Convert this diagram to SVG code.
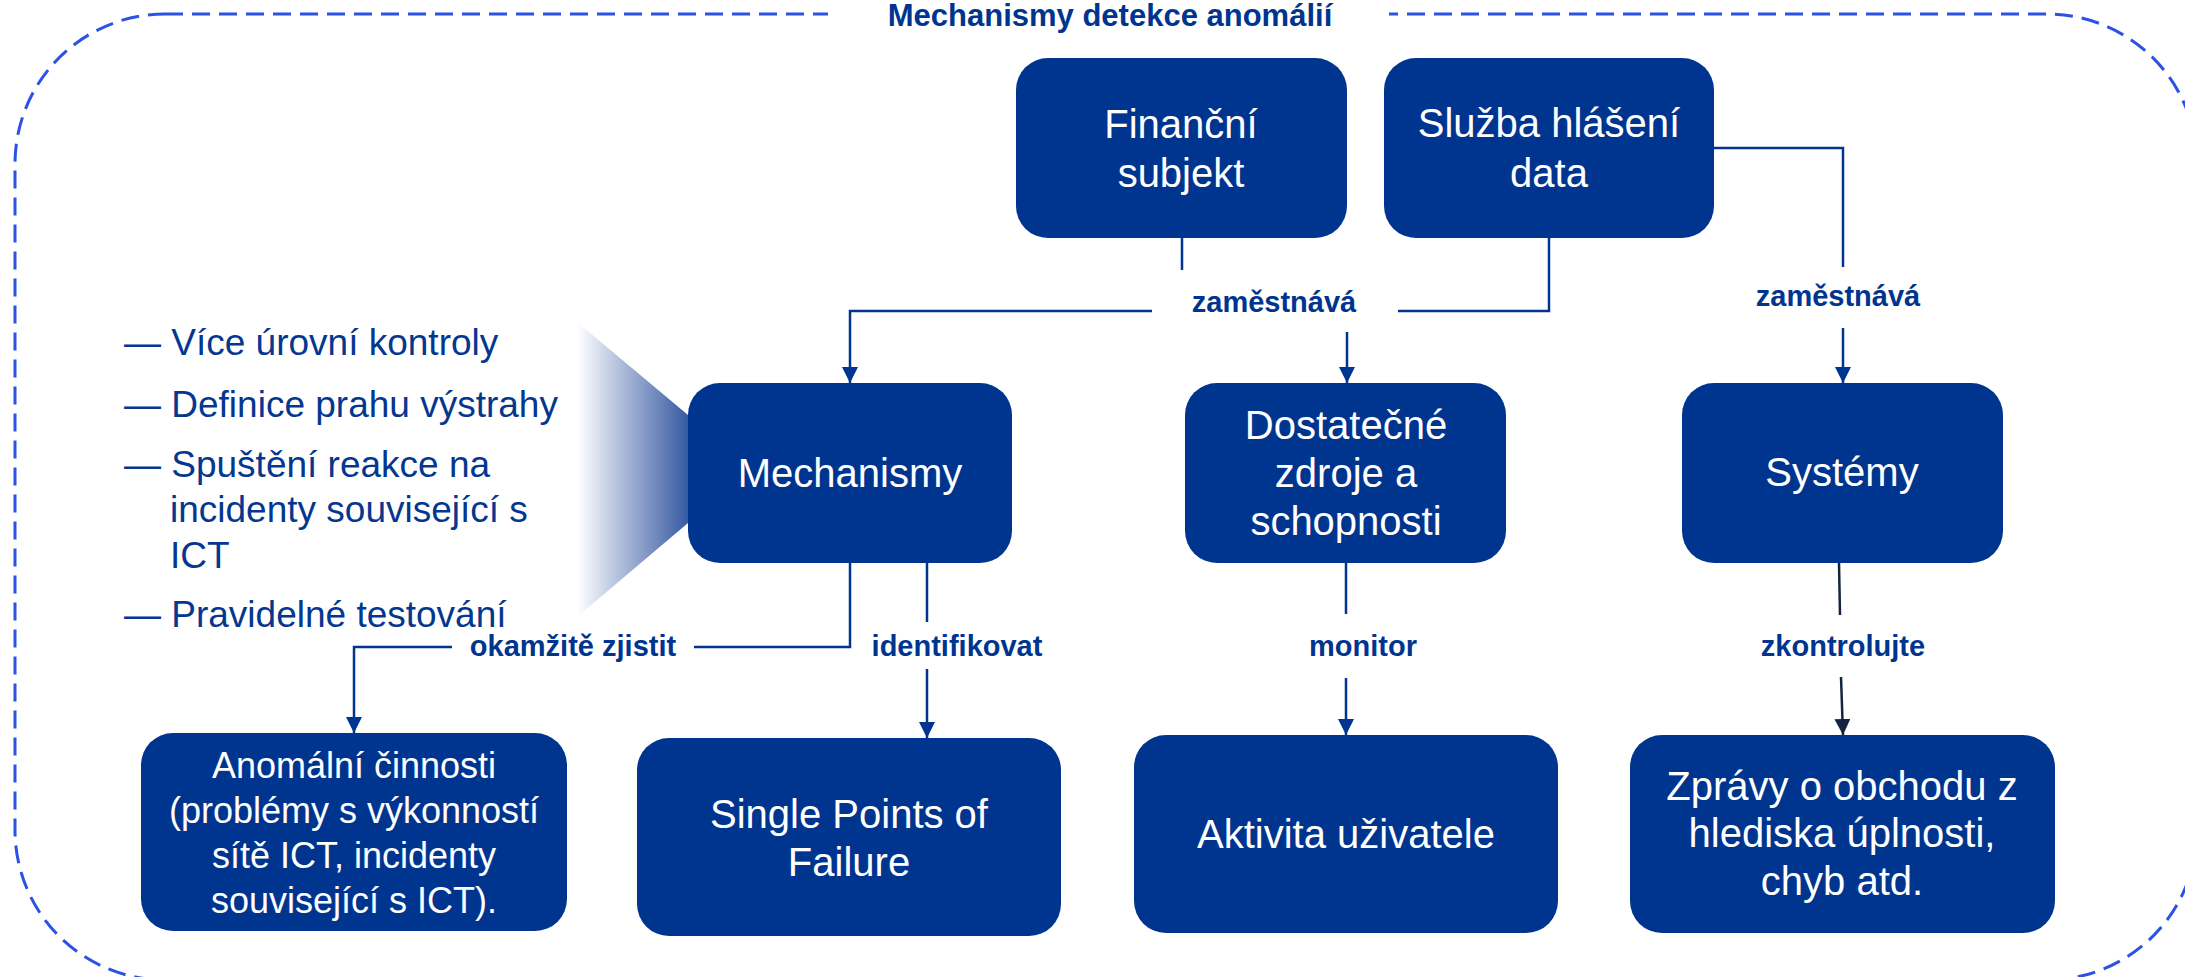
<svg xmlns="http://www.w3.org/2000/svg" width="2185" height="977" viewBox="0 0 2185 977">
<style>
.box{fill:#00358f}
.bt{font-family:"Liberation Sans",Arial,sans-serif;font-size:40px;fill:#ffffff;text-anchor:middle}
.bt36{font-size:36px}
.lbl{font-family:"Liberation Sans",Arial,sans-serif;font-size:29px;font-weight:bold;fill:#00358f;text-anchor:middle}
.bul{font-family:"Liberation Sans",Arial,sans-serif;font-size:37px;fill:#04378f}
.edge{fill:none;stroke:#00358f;stroke-width:2.5;marker-end:url(#ah)}
.edgeD{fill:none;stroke:#14243f;stroke-width:2.5;marker-end:url(#ahD)}
</style>
<defs>
<marker id="ah" markerUnits="userSpaceOnUse" markerWidth="17" markerHeight="17" refX="16" refY="8" orient="auto"><path d="M0,0 L16,8 L0,16 z" fill="#00358f"/></marker>
<marker id="ahD" markerUnits="userSpaceOnUse" markerWidth="17" markerHeight="17" refX="16" refY="8" orient="auto"><path d="M0,0 L16,8 L0,16 z" fill="#14243f"/></marker>
<linearGradient id="wg" gradientUnits="userSpaceOnUse" x1="577" y1="0" x2="688" y2="0">
<stop offset="0" stop-color="#ffffff"/>
<stop offset="1" stop-color="#365aa3"/>
</linearGradient>
</defs>
<rect width="2185" height="977" fill="#ffffff"/>
<g id="frame">
<rect x="15" y="14" width="2182" height="966" rx="150" ry="150" fill="none" stroke="#2b52e3" stroke-width="3" stroke-dasharray="18 9"/>
<rect x="828" y="0" width="561" height="32" fill="#ffffff"/>
<text x="1110" y="26" font-family="Liberation Sans, Arial, sans-serif" font-size="31" font-weight="bold" fill="#00358f" text-anchor="middle">Mechanismy detekce anomálií</text>
</g>
<g id="bullets">
<polygon points="577,322 688,415 688,523 577,617" fill="url(#wg)"/>
<text class="bul" x="124" y="355">— Více úrovní kontroly</text>
<text class="bul" x="124" y="417">— Definice prahu výstrahy</text>
<text class="bul" x="124" y="477">— Spuštění reakce na</text>
<text class="bul" x="170" y="522">incidenty související s</text>
<text class="bul" x="170" y="568">ICT</text>
<text class="bul" x="124" y="627">— Pravidelné testování</text>
</g>
<g id="connectors">
<path class="edge" d="M1182 238 V270 M1152 311 H850 V383"/>
<path class="edge" d="M1549 238 V311 H1398 M1347 332 V383"/>
<path class="edge" d="M1714 148 H1843 V267 M1843 328 V383"/>
<path class="edge" d="M850 563 V647 H694 M452 647 H354 V733"/>
<path class="edge" d="M927 563 V622 M927 669 V738"/>
<path class="edge" d="M1346 563 V614 M1346 678 V735"/>
<path class="edgeD" d="M1839 563 L1840 615 M1841 677 L1843 735"/>
<text class="lbl" x="1274" y="312">zaměstnává</text>
<text class="lbl" x="1838" y="306">zaměstnává</text>
<text class="lbl" x="573" y="656">okamžitě zjistit</text>
<text class="lbl" x="957" y="656">identifikovat</text>
<text class="lbl" x="1363" y="656">monitor</text>
<text class="lbl" x="1843" y="656">zkontrolujte</text>
</g>
<g id="financni">
<rect class="box" x="1016" y="58" width="331" height="180" rx="32"/>
<text class="bt" x="1181" y="138">Finanční</text>
<text class="bt" x="1181" y="187">subjekt</text>
</g>
<g id="sluzba">
<rect class="box" x="1384" y="58" width="330" height="180" rx="32"/>
<text class="bt" x="1549" y="137">Služba hlášení</text>
<text class="bt" x="1549" y="187">data</text>
</g>
<g id="mechanismy">
<rect class="box" x="688" y="383" width="324" height="180" rx="32"/>
<text class="bt" x="850" y="487">Mechanismy</text>
</g>
<g id="dostatecne">
<rect class="box" x="1185" y="383" width="321" height="180" rx="32"/>
<text class="bt" x="1346" y="439">Dostatečné</text>
<text class="bt" x="1346" y="487">zdroje a</text>
<text class="bt" x="1346" y="535">schopnosti</text>
</g>
<g id="systemy">
<rect class="box" x="1682" y="383" width="321" height="180" rx="32"/>
<text class="bt" x="1842" y="486">Systémy</text>
</g>
<g id="anomalni">
<rect class="box" x="141" y="733" width="426" height="198" rx="32"/>
<text class="bt bt36" x="354" y="778">Anomální činnosti</text>
<text class="bt bt36" x="354" y="823">(problémy s výkonností</text>
<text class="bt bt36" x="354" y="868">sítě ICT, incidenty</text>
<text class="bt bt36" x="354" y="913">související s ICT).</text>
</g>
<g id="single">
<rect class="box" x="637" y="738" width="424" height="198" rx="32"/>
<text class="bt" x="849" y="828">Single Points of</text>
<text class="bt" x="849" y="876">Failure</text>
</g>
<g id="aktivita">
<rect class="box" x="1134" y="735" width="424" height="198" rx="32"/>
<text class="bt" x="1346" y="848">Aktivita uživatele</text>
</g>
<g id="zpravy">
<rect class="box" x="1630" y="735" width="425" height="198" rx="32"/>
<text class="bt" x="1842" y="800">Zprávy o obchodu z</text>
<text class="bt" x="1842" y="847">hlediska úplnosti,</text>
<text class="bt" x="1842" y="895">chyb atd.</text>
</g>
</svg>
